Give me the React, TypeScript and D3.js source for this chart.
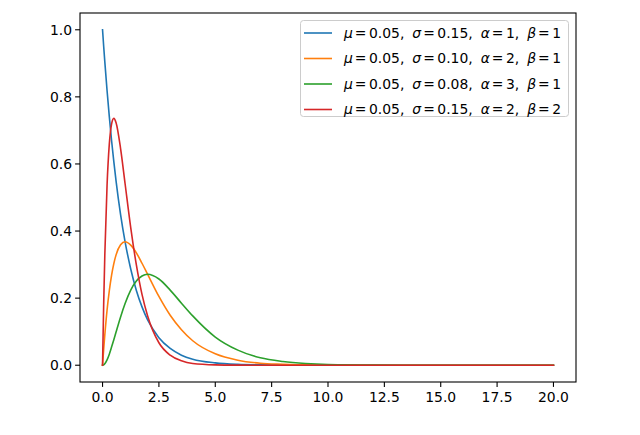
import React, { useRef, useEffect } from "react";
import * as d3 from "d3";

// x positions shared by every curve
const xs = [0, 0.05, 0.1, 0.2, 0.3, 0.4, 0.5, 0.6, 0.8, 1, 1.25, 1.5, 1.75, 2, 2.5, 3, 3.5, 4, 5, 6, 7, 8, 9, 10, 12, 15, 20];

// values
const blue = [1, 0.951, 0.905, 0.819, 0.741, 0.67, 0.607, 0.549, 0.449, 0.368, 0.287, 0.223, 0.174, 0.135, 0.082, 0.05, 0.03, 0.018, 0.007, 0.0025, 0.001, 0.0003, 0.0001, 0, 0, 0, 0];
const orange = [0, 0.048, 0.09, 0.164, 0.222, 0.268, 0.303, 0.329, 0.359, 0.368, 0.358, 0.335, 0.304, 0.271, 0.205, 0.149, 0.106, 0.073, 0.034, 0.015, 0.006, 0.003, 0.001, 0.0005, 0, 0, 0];
const green = [0, 0.0012, 0.0045, 0.016, 0.033, 0.054, 0.076, 0.099, 0.144, 0.184, 0.224, 0.251, 0.266, 0.271, 0.257, 0.224, 0.185, 0.147, 0.084, 0.045, 0.022, 0.011, 0.005, 0.002, 0.0004, 0, 0];
const red = [0, 0.181, 0.327, 0.536, 0.659, 0.719, 0.736, 0.723, 0.646, 0.541, 0.41, 0.299, 0.211, 0.147, 0.067, 0.03, 0.013, 0.005, 0.001, 0.0002, 0, 0, 0, 0, 0, 0, 0];

const seriesNames = [
  { mu: "0.05", sigma: "0.15", alpha: "1", beta: "1" },
  { mu: "0.05", sigma: "0.10", alpha: "2", beta: "1" },
  { mu: "0.05", sigma: "0.08", alpha: "3", beta: "1" },
  { mu: "0.05", sigma: "0.15", alpha: "2", beta: "2" },
];
const colors = ["#1f77b4", "#ff7f0e", "#2ca02c", "#d62728"];

const xTicks = [0, 2.5, 5, 7.5, 10, 12.5, 15, 17.5, 20];
const yTicks = [0, 0.2, 0.4, 0.6, 0.8, 1.0];

const W = 640;
const H = 435;
const plot = { left: 80, right: 576, top: 13, bottom: 382 };
const FONT = "DejaVu Sans, sans-serif";
const FS = 13.9;

const App: React.FC = () => {
  const svgRef = useRef<SVGSVGElement | null>(null);

  useEffect(() => {
    const svg = d3.select(svgRef.current);
    svg.selectAll("*").remove();

    const x = d3.scaleLinear().domain([-1, 21]).range([plot.left, plot.right]);
    const y = d3.scaleLinear().domain([-0.05, 1.05]).range([plot.bottom, plot.top]);

    svg.append("rect").attr("width", W).attr("height", H).attr("fill", "white");

    const allSeries = [blue, orange, green, red];
    const line = d3
      .line<number>()
      .x((_, i) => x(xs[i]))
      .y((d) => y(d))
      .curve(d3.curveMonotoneX);

    // 曲線
    const g = svg.append("g");
    allSeries.forEach((s, i) => {
      g.append("path")
        .attr("d", line(s))
        .attr("fill", "none")
        .attr("stroke", colors[i])
        .attr("stroke-width", 1.6)
        .attr("stroke-linejoin", "round")
        .attr("stroke-linecap", "square");
    });

    // 枠線
    svg
      .append("rect")
      .attr("x", plot.left)
      .attr("y", plot.top)
      .attr("width", plot.right - plot.left)
      .attr("height", plot.bottom - plot.top)
      .attr("fill", "none")
      .attr("stroke", "black")
      .attr("stroke-width", 1.1);

    // X軸目盛り
    const xa = svg.append("g");
    xTicks.forEach((t) => {
      xa.append("line")
        .attr("x1", x(t))
        .attr("x2", x(t))
        .attr("y1", plot.bottom)
        .attr("y2", plot.bottom + 4.9)
        .attr("stroke", "black")
        .attr("stroke-width", 1.1);
      xa.append("text")
        .attr("x", x(t))
        .attr("y", plot.bottom + 20)
        .attr("text-anchor", "middle")
        .attr("font-family", FONT)
        .attr("font-size", FS)
        .text(t.toFixed(1));
    });

    // Y軸目盛り
    const ya = svg.append("g");
    yTicks.forEach((t) => {
      ya.append("line")
        .attr("x1", plot.left - 4.9)
        .attr("x2", plot.left)
        .attr("y1", y(t))
        .attr("y2", y(t))
        .attr("stroke", "black")
        .attr("stroke-width", 1.1);
      ya.append("text")
        .attr("x", plot.left - 8)
        .attr("y", y(t))
        .attr("dy", "0.35em")
        .attr("text-anchor", "end")
        .attr("font-family", FONT)
        .attr("font-size", FS)
        .text(t.toFixed(1));
    });

    // 凡例
    const leg = svg.append("g");
    leg.append("rect")
      .attr("x", 300.5)
      .attr("y", 20.5)
      .attr("width", 268)
      .attr("height", 96)
      .attr("rx", 3)
      .attr("fill", "white")
      .attr("fill-opacity", 0.8)
      .attr("stroke", "#cccccc")
      .attr("stroke-width", 1);

    seriesNames.forEach((s, i) => {
      const ry = 33 + i * 25.5;
      leg.append("line")
        .attr("x1", 304)
        .attr("x2", 332)
        .attr("y1", ry)
        .attr("y2", ry)
        .attr("stroke", colors[i])
        .attr("stroke-width", 1.6);
      const txt = leg
        .append("text")
        .attr("x", 344)
        .attr("y", ry)
        .attr("dy", "0.35em")
        .attr("font-family", FONT)
        .attr("font-size", FS);
      // [文字, イタリック, 前の余白]
      const parts: [string, boolean, number][] = [
        ["μ", true, 0], ["=", false, 2], [s.mu + ",", false, 2.5],
        ["σ", true, 8], ["=", false, 2], [s.sigma + ",", false, 2.5],
        ["α", true, 8], ["=", false, 2], [s.alpha + ",", false, 2.5],
        ["β", true, 8], ["=", false, 2], [s.beta, false, 2.5],
      ];
      parts.forEach(([p, it, dx]) => {
        txt.append("tspan")
          .attr("dx", dx)
          .attr("font-style", it ? "italic" : "normal")
          .text(p);
      });
    });
  }, []);

  return (
    <svg
      ref={svgRef}
      width={W}
      height={H}
      style={{ position: "absolute", left: 0, top: 0, display: "block" }}
    />
  );
};

export default App;
